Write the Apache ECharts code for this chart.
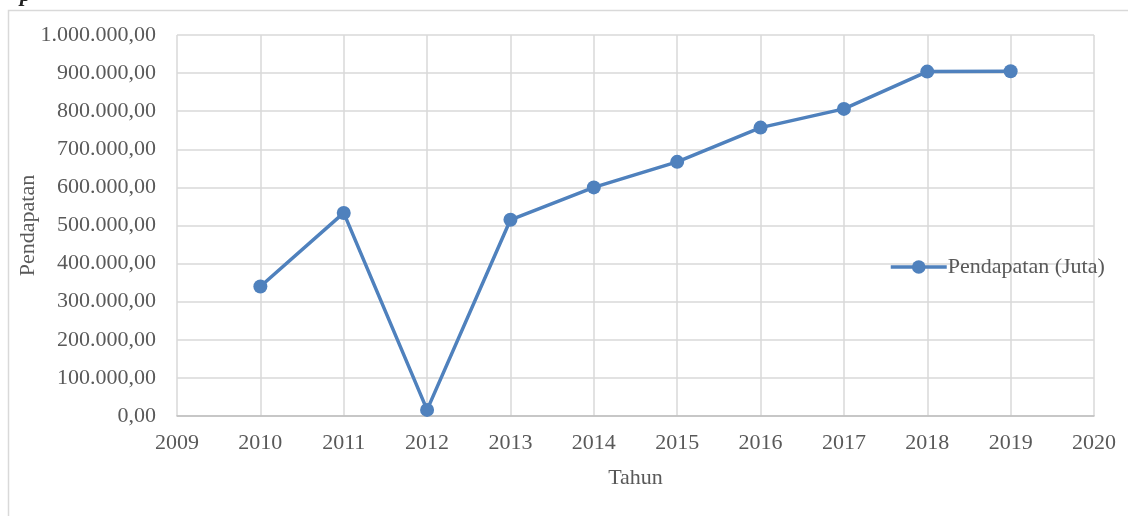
<!DOCTYPE html>
<html>
<head>
<meta charset="utf-8">
<script src="https://cdn.jsdelivr.net/npm/echarts@6/dist/echarts.min.js"></script>
<style>
html,body{margin:0;padding:0;background:#fff;}
#chart{width:1128px;height:516px;}
</style>
</head>
<body>
<div id="chart"></div>
<script>
const years = [2010, 2011, 2012, 2013, 2014, 2015, 2016, 2017, 2018, 2019];
const pendapatan = [340000, 533000, 16000, 515000, 600000, 667000, 757000, 806000, 904000, 905000];
const seriesName = 'Pendapatan (Juta)';
const xAxisTitle = 'Tahun';
const yAxisTitle = 'Pendapatan';

const FONT = '"Liberation Serif", "DejaVu Serif", serif';
const TXT = '#595959';
const FS = 22;

function fmt(v) {
  const s = Math.round(v).toString().replace(/\B(?=(\d{3})+(?!\d))/g, '.');
  return s + ',00';
}

const chart = echarts.init(document.getElementById('chart'), null, {renderer: 'canvas'});
chart.setOption({
  animation: false,
  backgroundColor: '#fff',
  graphic: [
    {type: 'rect', shape: {x: 8.5, y: 10.5, width: 1200, height: 600}, style: {fill: 'none', stroke: '#d9d9d9', lineWidth: 1.5}, z: -1},
    {type: 'text', left: 20, top: -16, style: {text: 'p', font: 'italic bold 22px ' + FONT, fill: '#222'}}
  ],
  grid: {left: 177, right: 34, top: 35, bottom: 100, containLabel: false},
  legend: {
    data: [seriesName],
    left: 884, top: 251,
    itemWidth: 56, itemHeight: 17, itemGap: 0,
    lineStyle: {width: 3.5},
    textStyle: {fontFamily: FONT, fontSize: FS, color: TXT, padding: [0, 0, 0, -4]}
  },
  xAxis: {
    type: 'value', min: 2009, max: 2020, interval: 1,
    name: xAxisTitle, nameLocation: 'middle', nameGap: 51, nameMoveOverlap: false,
    nameTextStyle: {fontFamily: FONT, fontSize: FS, color: TXT},
    axisLine: {show: true, lineStyle: {color: '#bfbfbf', width: 1.5}},
    axisTick: {show: false},
    splitLine: {show: true, lineStyle: {color: '#d9d9d9', width: 1.5}},
    axisLabel: {fontFamily: FONT, fontSize: FS, color: TXT, margin: 16, formatter: v => String(v)}
  },
  yAxis: {
    type: 'value', min: 0, max: 1000000, interval: 100000,
    name: yAxisTitle, nameLocation: 'middle', nameGap: 138, nameRotate: 90, nameMoveOverlap: false,
    nameTextStyle: {fontFamily: FONT, fontSize: FS, color: TXT},
    axisLine: {show: false},
    axisTick: {show: false},
    splitLine: {show: true, lineStyle: {color: '#d9d9d9', width: 1.5}},
    axisLabel: {fontFamily: FONT, fontSize: FS, color: TXT, margin: 21, formatter: v => fmt(v)}
  },
  series: [{
    name: seriesName,
    type: 'line',
    data: years.map((y, i) => [y, pendapatan[i]]),
    symbol: 'circle', symbolSize: 14,
    lineStyle: {color: '#4f81bd', width: 3.5},
    itemStyle: {color: '#4f81bd'}
  }]
});
</script>
</body>
</html>
